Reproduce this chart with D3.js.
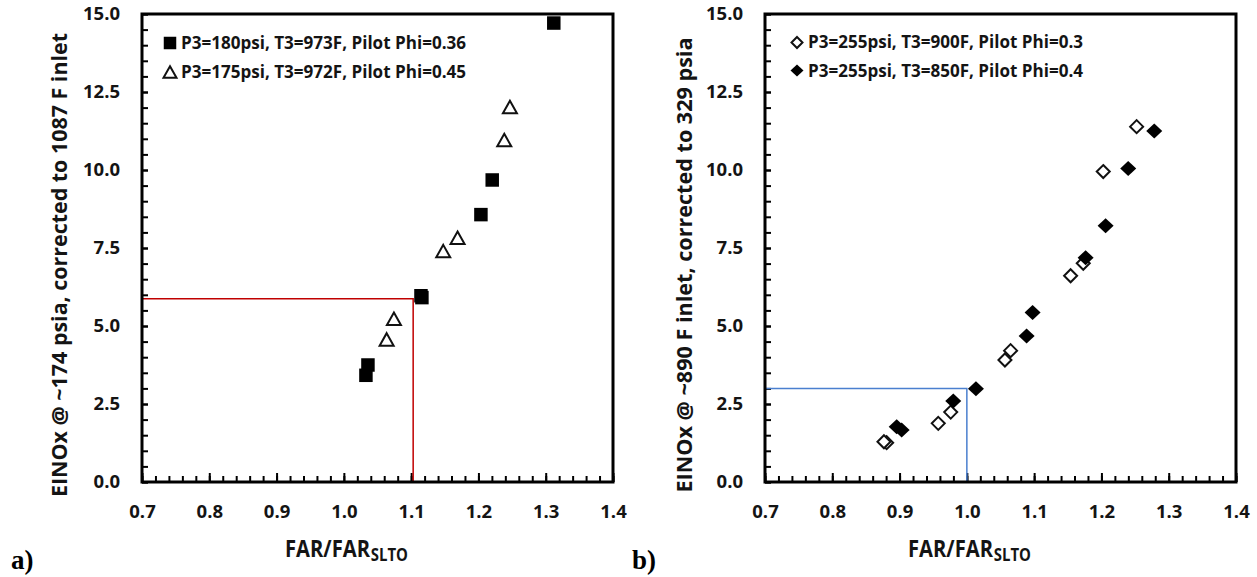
<!DOCTYPE html>
<html><head><meta charset="utf-8">
<script src="https://cdn.jsdelivr.net/npm/d3@7"></script>
<style>
body{margin:0;background:#fff}
svg{display:block}
text{font-family:'Open Sans',sans-serif;font-weight:700;fill:#141414}
text.tag{font-family:'Liberation Serif',serif;fill:#000}
</style>
</head><body>
<svg id="c" width="1257" height="577"></svg>
<script>
// ---------- data ----------
const xTicks = [0.7, 0.8, 0.9, 1.0, 1.1, 1.2, 1.3, 1.4];
const xTickLabels = ["0.7", "0.8", "0.9", "1.0", "1.1", "1.2", "1.3", "1.4"];
const yTicks = [0, 2.5, 5, 7.5, 10, 12.5, 15];
const yTickLabels = ["0.0", "2.5", "5.0", "7.5", "10.0", "12.5", "15.0"];
const xDomain = [0.7, 1.4];
const yDomain = [0, 15];

// panel a)
const aSquareLabel = "P3=180psi, T3=973F, Pilot Phi=0.36";
const aSquareX = [1.312, 1.2205, 1.2037, 1.1146, 1.1160, 1.0358, 1.0328];
const aSquareY = [14.71, 9.68, 8.57, 5.97, 5.91, 3.75, 3.42];
const aTriLabel = "P3=175psi, T3=972F, Pilot Phi=0.45";
const aTriX = [1.2468, 1.2384, 1.169, 1.1477, 1.0744, 1.0636];
const aTriY = [12.02, 10.96, 7.83, 7.40, 5.23, 4.57];
const aRefX = [0.7, 1.103, 1.103];
const aRefY = [5.87, 5.87, 0];
const aYTitle = "EINOx @ ~174 psia, corrected to 1087 F inlet";

// panel b)
const bOpenLabel = "P3=255psi, T3=900F, Pilot Phi=0.3";
const bOpenX = [1.2523, 1.2027, 1.173, 1.1542, 1.065, 1.0566, 0.976, 0.9575, 0.8808, 0.8768];
const bOpenY = [11.39, 9.95, 7.01, 6.61, 4.21, 3.91, 2.24, 1.88, 1.26, 1.29];
const bFillLabel = "P3=255psi, T3=850F, Pilot Phi=0.4";
const bFillX = [1.2785, 1.2398, 1.2062, 1.1765, 1.0977, 1.0888, 1.0135, 0.9798, 0.8957, 0.9031];
const bFillY = [11.25, 10.05, 8.21, 7.19, 5.43, 4.68, 2.99, 2.60, 1.77, 1.67];
const bRefX = [0.7, 1.0, 1.0];
const bRefY = [3.0, 3.0, 0];
const bYTitle = "EINOx @ ~890 F inlet, corrected to 329 psia";

const xTitle = "FAR/FAR";
const xTitleSub = "SLTO";

// ---------- drawing ----------
const svg = d3.select("#c");
const xMinor = d3.range(0.7, 1.4001, 0.02);
const yMinor = d3.range(0, 15.001, 0.5);

const sq = s => `M${-s/2},${-s/2}h${s}v${s}h${-s}Z`;
const tri = (w, h) => `M0,${-h/2}L${w/2},${h/2}L${-w/2},${h/2}Z`;
const dia = (w, h) => `M0,${-h/2}L${w/2},0L0,${h/2}L${-w/2},0Z`;

function panel(xr, refX, refY, refColor, yTitle, yTitleX, yTitleLen, xTitleX, tag, tagX) {
  const x = d3.scaleLinear().domain(xDomain).range(xr);
  const y = d3.scaleLinear().domain(yDomain).range([482, 14]);
  const g = svg.append("g");

  // minor x ticks
  g.append("g").attr("transform", "translate(0,482)")
    .call(d3.axisBottom(x).tickValues(xMinor).tickSize(-6).tickFormat(""))
    .call(a => a.select(".domain").remove())
    .call(a => a.selectAll("line").attr("stroke", "#000").attr("stroke-width", 2));
  // major x ticks + labels
  g.append("g").attr("transform", "translate(0,482)")
    .call(d3.axisBottom(x).tickValues(xTicks).tickSize(-9).tickPadding(23)
      .tickFormat((d, i) => xTickLabels[i]))
    .call(a => a.select(".domain").remove())
    .call(a => a.selectAll("line").attr("stroke", "#000").attr("stroke-width", 2))
    .call(a => a.selectAll("text").attr("font-size", 18.5));
  // minor y ticks
  g.append("g").attr("transform", `translate(${xr[0]},0)`)
    .call(d3.axisLeft(y).tickValues(yMinor).tickSize(-6).tickFormat(""))
    .call(a => a.select(".domain").remove())
    .call(a => a.selectAll("line").attr("stroke", "#000").attr("stroke-width", 2));
  // major y labels
  g.append("g").attr("transform", `translate(${xr[0]},0)`)
    .call(d3.axisLeft(y).tickValues(yTicks).tickSize(-6).tickPadding(22)
      .tickFormat((d, i) => yTickLabels[i]))
    .call(a => a.select(".domain").remove())
    .call(a => a.selectAll("line").attr("stroke", "#000").attr("stroke-width", 2))
    .call(a => a.selectAll("text").attr("font-size", 18.5));

  // reference line
  const line = d3.line().x((d, i) => x(refX[i])).y((d, i) => y(refY[i]));
  g.append("path").attr("d", line(refX)).attr("fill", "none")
    .attr("stroke", refColor).attr("stroke-width", 1.5);

  // frame
  g.append("rect").attr("x", xr[0]).attr("y", 14)
    .attr("width", xr[1] - xr[0]).attr("height", 468)
    .attr("fill", "none").attr("stroke", "#000").attr("stroke-width", 3);

  // y title
  g.append("text")
    .attr("transform", `translate(${yTitleX},265) rotate(-90)`)
    .attr("text-anchor", "middle").attr("font-size", 22)
    .attr("textLength", yTitleLen).attr("lengthAdjust", "spacingAndGlyphs")
    .text(yTitle);
  // x title with subscript (horizontally condensed as a whole)
  const xt = g.append("text").attr("font-size", 23);
  const t1 = xt.append("tspan").text(xTitle);
  xt.append("tspan").attr("dx", 1).attr("dy", 4).attr("font-size", 17).text(xTitleSub);
  const k = 85 / t1.node().getComputedTextLength();
  xt.attr("transform", `translate(${xTitleX},557) scale(${k},1)`);
  // panel tag
  g.append("text").attr("class", "tag").attr("x", tagX).attr("y", 569)
    .attr("font-size", 27).text(tag);

  return {x, y, g};
}

// ---- panel a ----
const A = panel([142, 613], aRefX, aRefY, "#c00000", aYTitle, 67, 464, 285, "a)", 11);
A.g.append("g").selectAll("path").data(aTriX).join("path")
  .attr("transform", (d, i) => `translate(${A.x(d)},${A.y(aTriY[i])})`)
  .attr("d", tri(14, 12.5)).attr("fill", "#fff").attr("stroke", "#111").attr("stroke-width", 2);
A.g.append("g").selectAll("path").data(aSquareX).join("path")
  .attr("transform", (d, i) => `translate(${A.x(d)},${A.y(aSquareY[i])})`)
  .attr("d", sq(13.5)).attr("fill", "#000");
// legend a
A.g.append("path").attr("transform", "translate(170,43)").attr("d", sq(12.5)).attr("fill", "#000");
A.g.append("path").attr("transform", "translate(170,72)").attr("d", tri(13, 11.5))
  .attr("fill", "#fff").attr("stroke", "#111").attr("stroke-width", 2);
A.g.append("text").attr("x", 181).attr("y", 49).attr("font-size", 18)
  .attr("textLength", 285).attr("lengthAdjust", "spacingAndGlyphs").text(aSquareLabel);
A.g.append("text").attr("x", 181).attr("y", 78).attr("font-size", 18)
  .attr("textLength", 285).attr("lengthAdjust", "spacingAndGlyphs").text(aTriLabel);

// ---- panel b ----
const B = panel([765, 1236], bRefX, bRefY, "#4a7fcf", bYTitle, 692, 455, 908, "b)", 632);
B.g.append("g").selectAll("path").data(bOpenX).join("path")
  .attr("transform", (d, i) => `translate(${B.x(d)},${B.y(bOpenY[i])})`)
  .attr("d", dia(13, 13)).attr("fill", "#fff").attr("stroke", "#111").attr("stroke-width", 2);
B.g.append("g").selectAll("path").data(bFillX).join("path")
  .attr("transform", (d, i) => `translate(${B.x(d)},${B.y(bFillY[i])})`)
  .attr("d", dia(16, 15)).attr("fill", "#000");
// legend b
B.g.append("path").attr("transform", "translate(797,42.5)").attr("d", dia(11, 11))
  .attr("fill", "#fff").attr("stroke", "#111").attr("stroke-width", 2);
B.g.append("path").attr("transform", "translate(797,70.5)").attr("d", dia(13, 12)).attr("fill", "#000");
B.g.append("text").attr("x", 808).attr("y", 48).attr("font-size", 18)
  .attr("textLength", 275).attr("lengthAdjust", "spacingAndGlyphs").text(bOpenLabel);
B.g.append("text").attr("x", 808).attr("y", 76.5).attr("font-size", 18)
  .attr("textLength", 275).attr("lengthAdjust", "spacingAndGlyphs").text(bFillLabel);
</script>
</body></html>
